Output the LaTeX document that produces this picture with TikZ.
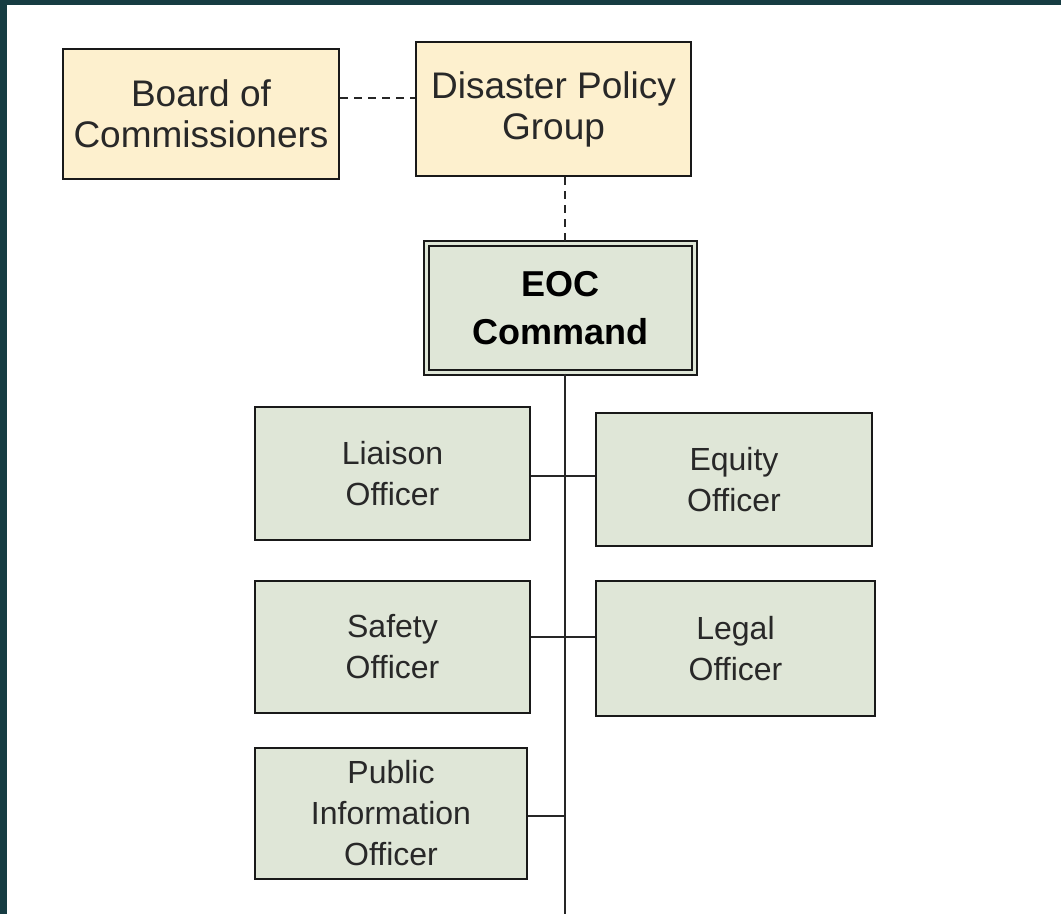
\documentclass[tikz,border=0pt]{standalone}
\usepackage{fontspec}
\setmainfont{Liberation Sans}
\usetikzlibrary{calc}

\definecolor{frame}{RGB}{22,60,66}
\definecolor{policyfill}{RGB}{253,240,206}
\definecolor{officefill}{RGB}{223,230,215}
\definecolor{ink}{RGB}{40,40,40}

\begin{document}
\begin{tikzpicture}[x=1pt,y=-1pt,
	topbox/.style={draw=black!90,line width=2.3pt,fill=policyfill,text=ink,align=center,
		inner sep=0pt,font=\fontsize{37}{41}\selectfont},
	officebox/.style={draw=black!90,line width=2.3pt,fill=officefill,text=ink,align=center,
		inner sep=0pt,font=\fontsize{32}{41}\selectfont},
	link/.style={line width=2.6pt,black!85}]

	% frame
	\fill[frame] (0,0) rectangle (1061,914);
	\fill[white] (7,5) rectangle (1061,914);
	\useasboundingbox (0,0) rectangle (1061,914);

	% policy level
	\node[topbox,minimum width=276pt,minimum height=130pt] (board) at (201,114) {Board of\\Commissioners};
	\node[topbox,minimum width=275pt,minimum height=134pt] (policy) at (553.5,109) {Disaster Policy\\Group};

	% command
	\node[draw=black!90,double=officefill,double distance=3pt,line width=2.3pt,fill=officefill,
		text=black,align=center,inner sep=0pt,minimum width=268pt,minimum height=129pt,
		font=\bfseries\fontsize{36}{48}\selectfont] (eoc) at (560.5,308) {EOC\\Command};

	% command staff
	\node[officebox,minimum width=275pt,minimum height=133pt] (liaison) at (392.5,473.5) {Liaison\\Officer};
	\node[officebox,minimum width=276pt,minimum height=133pt] (equity) at (734,479.5) {Equity\\Officer};
	\node[officebox,minimum width=275pt,minimum height=132pt] (safety) at (392.5,647) {Safety\\Officer};
	\node[officebox,minimum width=279pt,minimum height=135pt] (legal) at (735.5,648.5) {Legal\\Officer};
	\node[officebox,minimum width=272pt,minimum height=131pt] (pio) at (391,813.5) {Public\\Information\\Officer};

	\coordinate (spine) at (565,914);

	% dashed links
	\draw[link,dash pattern=on 8pt off 6pt] ([yshift=16pt]board.east) -- ([yshift=16pt]board.east -| policy.west);
	\draw[link,dash pattern=on 8pt off 6pt] (policy.south -| spine) -- (eoc.north -| spine);

	% solid links
	\draw[link] (eoc.south -| spine) -- (spine);
	\draw[link] ([yshift=-2.5pt]liaison.east) -- ([yshift=-2.5pt]liaison.east -| equity.west);
	\draw[link] ([yshift=10pt]safety.east) -- ([yshift=10pt]safety.east -| legal.west);
	\draw[link] ([yshift=-2.5pt]pio.east) -- ([yshift=-2.5pt]pio.east -| spine);

\end{tikzpicture}
\end{document}
